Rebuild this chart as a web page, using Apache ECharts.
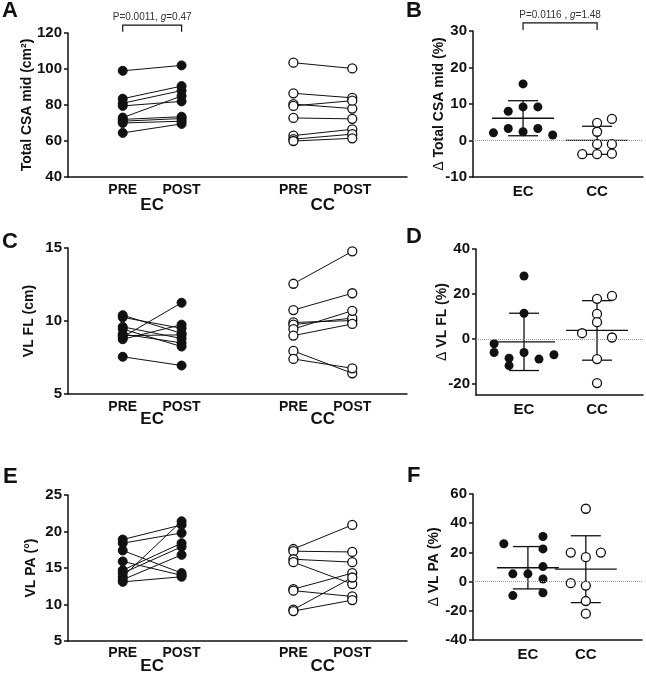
<!DOCTYPE html>
<html>
<head>
<meta charset="utf-8">
<script src="https://cdn.jsdelivr.net/npm/echarts@6/dist/echarts.min.js"></script>
<style>
html, body { margin: 0; padding: 0; background: #fff; }
#chart { width: 646px; height: 675px; }
</style>
</head>
<body>
<div id="chart"></div>
<script>
// A: total CSA mid (cm2), pre/post per subject
var csaEcPre  = [99, 83.5, 81, 79.5, 73, 72, 71, 70, 64.5];
var csaEcPost = [102, 90.5, 88, 82, 85, 73.5, 72.5, 71, 69.5];
var csaCcPre  = [103.5, 86.5, 80.5, 79.5, 72.8, 63, 61, 60];
var csaCcPost = [100.3, 84, 78, 82.4, 72.3, 66.5, 63.8, 61.5];
// B: change in total CSA mid (%)
var dCsaEc = [2.1, 3.3, 8.0, 15.5, 9.2, 2.4, 9.2, 3.3, 1.5];
var dCsaEcSlot = [-2, -1, -1, 0, 0, 0, 1, 1, 2];
var dCsaCc = [-3.75, 4.85, 2.4, -1.0, -3.75, 5.9, -1.0, -3.6];
var dCsaCcSlot = [-1, 0, 0, 0, 0, 1, 1, 1];
var dCsaMean = [6.1, 0.05];
var dCsaSd = [4.8, 3.85];

// C: VL fascicle length (cm)
var flEcPre  = [10.4, 10.25, 9.6, 9.45, 9.1, 9.0, 8.9, 8.75, 7.55];
var flEcPost = [9.15, 9.5, 8.8, 8.25, 8.5, 9.05, 11.25, 9.75, 6.95];
var flCcPre  = [12.55, 10.75, 9.9, 9.75, 9.45, 9.0, 7.95, 7.4];
var flCcPost = [14.77, 11.9, 10.03, 10.2, 10.7, 9.8, 6.42, 6.76];
// D: change in VL FL (%)
var dFlEc = [-2.2, -6.1, -8.6, -11.9, 28, 11.4, -6.1, -9.0, -7.1];
var dFlEcSlot = [-2, -2, -1, -1, 0, 0, 0, 1, 2];
var dFlCc = [2.5, 17.8, 11.1, 7.4, -9.0, -19.7, 19.1, 0.6];
var dFlCcSlot = [-1, 0, 0, 0, 0, 0, 1, 1];
var dFlMean = [-1.35, 3.75];
var dFlSd = [12.75, 13.25];

// E: VL pennation angle (deg)
var paEcPre  = [18.9, 18.4, 17.4, 15.9, 14.7, 14.3, 13.8, 13.4, 13.1];
var paEcPost = [20.9, 19.8, 14.3, 14.0, 18.4, 17.9, 21.4, 16.8, 13.8];
var paCcPre  = [17.6, 17.3, 16.2, 15.8, 12.1, 11.9, 9.3, 9.1];
var paCcPost = [20.9, 17.2, 15.8, 12.8, 14.3, 11.1, 13.7, 10.6];
// F: change in VL PA (%)
var dPaEc = [25.9, 30.9, 22.4, 10.3, 5.3, 5.3, 1.8, -9.6, -7.6];
var dPaEcSlot = [-1.6, 1, 1, 1, -1, 0, 1, -1, 1];
var dPaCc = [19.9, 19.9, 49.9, 16.7, -1.1, -2.7, -13.3, -22];
var dPaCcSlot = [-1, 1, 0, 0, -1, 0, 0, 0];
var dPaMean = [9.5, 8.5];
var dPaSd = [14.5, 22.9];

var timeLabels = ['PRE', 'POST', 'PRE', 'POST'];
var timeX = [1, 2, 3.9, 4.9];
var groupLabels = ['EC', 'CC'];
var groupPairX = [1.5, 4.4];
var groupX = [1, 2];

var FONT = 'Liberation Sans, Arial, Helvetica, sans-serif';
var INK = '#111';

function labelAt(v, xs, labels) {
    for (var i = 0; i < xs.length; i++) {
        if (Math.abs(xs[i] - v) < 1e-6) return labels[i];
    }
    return '';
}

function yAxisFor(gi, p) {
    var ax = {
        gridIndex: gi, type: 'value', min: p.min, max: p.max,
        axisLine: { show: true, lineStyle: { color: INK, width: 1.5 } },
        axisTick: { show: true, length: 4, lineStyle: { color: INK, width: 1.5 } },
        axisLabel: { color: INK, fontFamily: FONT, fontWeight: 'bold', fontSize: 15, margin: 6 },
        splitLine: { show: false },
        name: p.name, nameLocation: 'middle', nameGap: p.nameGap, nameMoveOverlap: false,
        nameTextStyle: {
            color: INK, fontFamily: FONT, fontWeight: 'bold', fontSize: 14,
            rich: { d: { fontWeight: 'normal', fontSize: 14, fontFamily: FONT, color: INK } }
        }
    };
    if (p.ticks) {
        ax.axisLabel.customValues = p.ticks;
        ax.axisTick.customValues = p.ticks;
    } else {
        ax.interval = p.interval;
    }
    return ax;
}

var option = {
    animation: false,
    backgroundColor: '#fff',
    grid: [], xAxis: [], yAxis: [], series: [], graphic: []
};

function addPairPanel(p) {
    var gi = option.grid.length;
    option.grid.push({ left: p.box[0], top: p.box[1], width: p.box[2], height: p.box[3], outerBoundsMode: 'none' });
    var xi = option.xAxis.length;
    option.xAxis.push({
        gridIndex: gi, type: 'value', min: 0.07, max: 5.83, position: 'bottom',
        axisLine: { show: true, onZero: false, lineStyle: { color: INK, width: 1.5 } },
        axisTick: { show: false }, splitLine: { show: false },
        axisLabel: {
            customValues: timeX, margin: p.timeMargin,
            formatter: function (v) { return labelAt(v, timeX, timeLabels); },
            color: INK, fontFamily: FONT, fontWeight: 'bold', fontSize: 14
        }
    });
    option.xAxis.push({
        gridIndex: gi, type: 'value', min: 0.07, max: 5.83, position: 'bottom',
        axisLine: { show: false }, axisTick: { show: false }, splitLine: { show: false },
        axisLabel: {
            customValues: groupPairX, margin: p.groupMargin,
            formatter: function (v) { return labelAt(v, groupPairX, groupLabels); },
            color: INK, fontFamily: FONT, fontWeight: 'bold', fontSize: 17
        }
    });
    var yi = option.yAxis.length;
    option.yAxis.push(yAxisFor(gi, p));

    var groups = [
        { pre: p.ecPre, post: p.ecPost, x: [timeX[0], timeX[1]], filled: true },
        { pre: p.ccPre, post: p.ccPost, x: [timeX[2], timeX[3]], filled: false }
    ];
    groups.forEach(function (g) {
        g.pre.forEach(function (v, i) {
            option.series.push({
                type: 'line', xAxisIndex: xi, yAxisIndex: yi, silent: true,
                data: [[g.x[0], v], [g.x[1], g.post[i]]],
                symbol: 'circle', symbolSize: 9, showSymbol: true,
                lineStyle: { color: INK, width: 1 },
                itemStyle: g.filled
                    ? { color: INK, borderColor: INK, borderWidth: 1 }
                    : { color: '#fff', borderColor: INK, borderWidth: 1.3 }
            });
        });
    });
    return { xi: xi, yi: yi };
}

function renderErrorBar(params, api) {
    var x = api.value(0), m = api.value(1), s = api.value(2);
    var c = api.coord([x, m]);
    var hi = api.coord([x, m + s]);
    var lo = api.coord([x, m - s]);
    var st = { stroke: INK, lineWidth: 1.3, fill: null };
    return {
        type: 'group',
        children: [
            { type: 'line', shape: { x1: c[0] - 31, y1: c[1], x2: c[0] + 31, y2: c[1] }, style: st },
            { type: 'line', shape: { x1: c[0], y1: hi[1], x2: c[0], y2: lo[1] }, style: st },
            { type: 'line', shape: { x1: c[0] - 15, y1: hi[1], x2: c[0] + 15, y2: hi[1] }, style: st },
            { type: 'line', shape: { x1: c[0] - 15, y1: lo[1], x2: c[0] + 15, y2: lo[1] }, style: st }
        ]
    };
}

function addDeltaPanel(p) {
    var gi = option.grid.length;
    option.grid.push({ left: p.box[0], top: p.box[1], width: p.box[2], height: p.box[3], outerBoundsMode: 'none' });
    var xi = option.xAxis.length;
    option.xAxis.push({
        gridIndex: gi, type: 'value', min: p.xMin, max: p.xMax, position: 'bottom',
        axisLine: { show: true, onZero: false, lineStyle: { color: INK, width: 1.5 } },
        axisTick: { show: false }, splitLine: { show: false },
        axisLabel: {
            customValues: groupX, margin: 7,
            formatter: function (v) { return labelAt(v, groupX, groupLabels); },
            color: INK, fontFamily: FONT, fontWeight: 'bold', fontSize: 15
        }
    });
    var yi = option.yAxis.length;
    option.yAxis.push(yAxisFor(gi, p));

    option.series.push({
        type: 'custom', xAxisIndex: xi, yAxisIndex: yi, silent: true, z: 1,
        renderItem: renderErrorBar,
        encode: { x: 0, y: 1 },
        data: groupX.map(function (gx, k) { return [gx, p.mean[k], p.sd[k]]; })
    });
    option.series.push({
        type: 'scatter', xAxisIndex: xi, yAxisIndex: yi, silent: true, z: 3,
        symbol: 'circle', symbolSize: 9,
        itemStyle: { color: INK, opacity: 1 },
        data: p.ec.map(function (v, i) { return [groupX[0] + p.ecSlot[i] * p.slotW, v]; }),
        markLine: {
            silent: true, symbol: 'none', label: { show: false },
            lineStyle: { color: '#9a9a9a', type: 'dotted', width: 1 },
            data: [{ yAxis: 0 }]
        }
    });
    option.series.push({
        type: 'scatter', xAxisIndex: xi, yAxisIndex: yi, silent: true, z: 3,
        symbol: 'circle', symbolSize: 9,
        itemStyle: { color: '#fff', borderColor: INK, borderWidth: 1.3, opacity: 1 },
        data: p.cc.map(function (v, i) { return [groupX[1] + p.ccSlot[i] * p.slotW, v]; })
    });
    return { xi: xi, yi: yi };
}

function addBracket(ax, x1, x2, yLeg, yTop, text) {
    option.series.push({
        type: 'custom', xAxisIndex: ax.xi, yAxisIndex: ax.yi, silent: true, clip: false,
        encode: { x: [0, 1], y: [2, 3] },
        data: [[x1, x2, yLeg, yTop]],
        renderItem: function (params, api) {
            var a = api.coord([api.value(0), api.value(2)]);
            var b = api.coord([api.value(0), api.value(3)]);
            var c = api.coord([api.value(1), api.value(3)]);
            var d = api.coord([api.value(1), api.value(2)]);
            return {
                type: 'group',
                children: [
                    { type: 'polyline', shape: { points: [a, b, c, d] }, style: { stroke: INK, lineWidth: 1.2, fill: null } },
                    {
                        type: 'text', x: (b[0] + c[0]) / 2, y: b[1] - 3,
                        style: {
                            text: text, fill: '#333', font: '10px ' + FONT,
                            align: 'center', verticalAlign: 'bottom',
                            rich: { i: { fontStyle: 'italic', fontSize: 10, fontFamily: FONT, fill: '#333', color: '#333' } }
                        }
                    }
                ]
            };
        }
    });
}

var axA = addPairPanel({
    box: [68, 33, 339, 144], min: 40, max: 120, interval: 20,
    name: 'Total CSA mid (cm²)', nameGap: 34, timeMargin: 6, groupMargin: 20,
    ecPre: csaEcPre, ecPost: csaEcPost, ccPre: csaCcPre, ccPost: csaCcPost
});
var axB = addDeltaPanel({
    box: [473, 31, 170, 146], min: -10, max: 30, interval: 10,
    name: '{d|Δ} Total CSA mid (%)', nameGap: 27,
    xMin: 0.324, xMax: 2.62, slotW: 0.2,
    ec: dCsaEc, ecSlot: dCsaEcSlot, cc: dCsaCc, ccSlot: dCsaCcSlot,
    mean: dCsaMean, sd: dCsaSd
});
addPairPanel({
    box: [68, 248, 339, 146], min: 5, max: 15, interval: 5,
    name: 'VL FL (cm)', nameGap: 32, timeMargin: 6, groupMargin: 17,
    ecPre: flEcPre, ecPost: flEcPost, ccPre: flCcPre, ccPost: flCcPost
});
addDeltaPanel({
    box: [476, 249, 167, 146], min: -25, max: 40, ticks: [-20, 0, 20, 40],
    name: '{d|Δ} VL FL (%)', nameGap: 27,
    xMin: 0.342, xMax: 2.63, slotW: 0.205,
    ec: dFlEc, ecSlot: dFlEcSlot, cc: dFlCc, ccSlot: dFlCcSlot,
    mean: dFlMean, sd: dFlSd
});
addPairPanel({
    box: [68, 495, 339, 146], min: 5, max: 25, interval: 5,
    name: 'VL PA (°)', nameGap: 30, timeMargin: 5, groupMargin: 17,
    ecPre: paEcPre, ecPost: paEcPost, ccPre: paCcPre, ccPost: paCcPost
});
addDeltaPanel({
    box: [473, 494, 169, 146], min: -40, max: 60, interval: 20,
    name: '{d|Δ} VL PA (%)', nameGap: 32,
    xMin: 0.052, xMax: 2.97, slotW: 0.26,
    ec: dPaEc, ecSlot: dPaEcSlot, cc: dPaCc, ccSlot: dPaCcSlot,
    mean: dPaMean, sd: dPaSd
});

addBracket(axA, timeX[0], timeX[1], 120.7, 124.4, 'P=0.0011, {i|g}=0.47');
addBracket(axB, groupX[0], groupX[1], 30.3, 32.2, 'P=0.0116 , {i|g}=1.48');

// panel letters
[['A', 2, 0], ['B', 406, 0], ['C', 2, 231], ['D', 406, 226], ['E', 3, 466], ['F', 407, 465]].forEach(function (l) {
    option.graphic.push({
        type: 'text', left: l[1], top: l[2], silent: true,
        style: { text: l[0], font: 'bold 22px ' + FONT, fill: INK }
    });
});

var chart = echarts.init(document.getElementById('chart'));
chart.setOption(option);
</script>
</body>
</html>
